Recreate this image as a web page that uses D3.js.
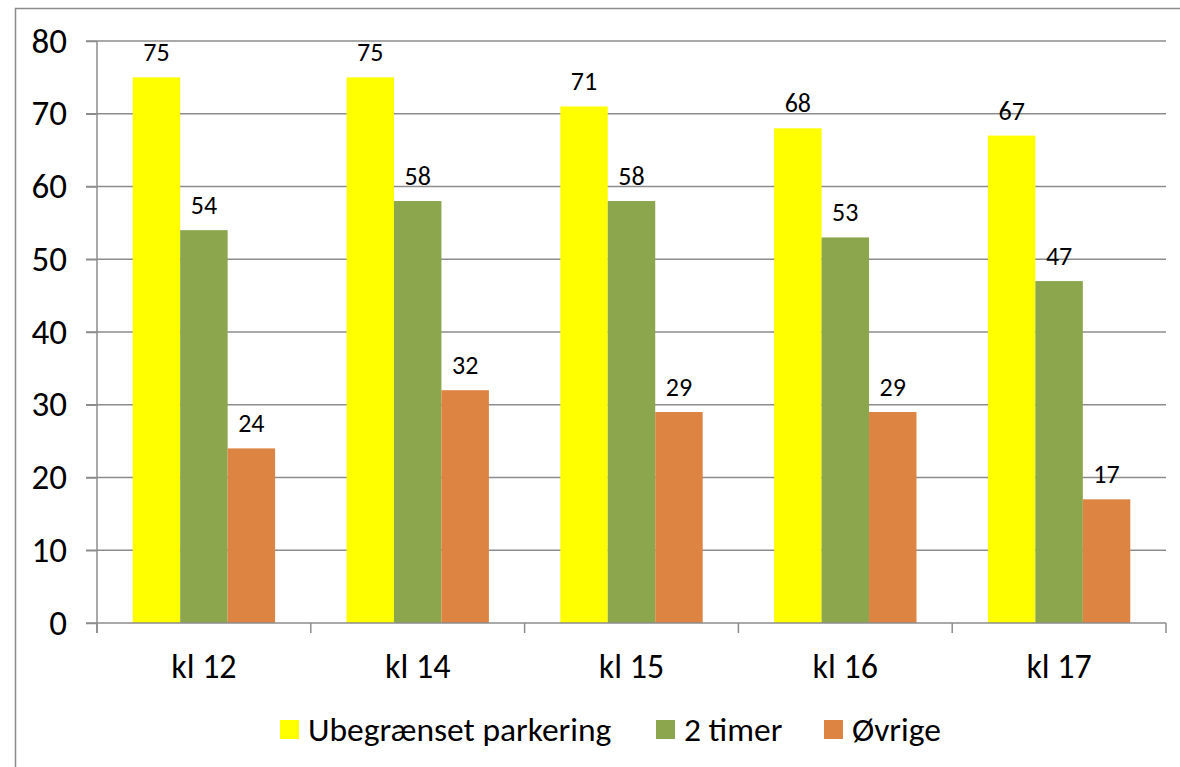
<!DOCTYPE html>
<html>
<head>
<meta charset="utf-8">
<script src="https://cdn.jsdelivr.net/npm/d3@7"></script>
<style>
	body { margin: 0; background: #fff; }
	svg { display: block; }
	text { font-family: Carlito, "Open Sans", "Noto Sans", sans-serif; }
</style>
</head>
<body>
<svg id="chart" width="1180" height="767"></svg>
<script>
const categories = ["kl 12", "kl 14", "kl 15", "kl 16", "kl 17"];
const seriesNames = ["Ubegrænset parkering", "2 timer", "Øvrige"];
const ubegrenset = [75, 75, 71, 68, 67];
const toTimer = [54, 58, 58, 53, 47];
const ovrige = [24, 32, 29, 29, 17];
const yTicks = [0, 10, 20, 30, 40, 50, 60, 70, 80];
const colors = ["#ffff00", "#8ba64d", "#de8442"];

const svg = d3.select("#chart");
const margin = {top: 41, right: 14, bottom: 144, left: 97};
const width = 1180, height = 767;

// outer frame
svg.append("path")
	.attr("d", "M15.5,767 V8.5 H1180")
	.attr("fill", "none")
	.attr("stroke", "#8c8c8c")
	.attr("stroke-width", 1.5);

const x = d3.scaleBand()
	.domain(categories)
	.range([margin.left, width - margin.right])
	.paddingInner(0.334)
	.paddingOuter(0.167);

const x0 = d3.scaleBand()
	.domain(categories)
	.range([margin.left, width - margin.right]);

const xs = d3.scaleBand()
	.domain(seriesNames)
	.range([0, x.bandwidth()]);

const y = d3.scaleLinear()
	.domain([0, 80])
	.range([height - margin.bottom, margin.top]);

// gridlines
svg.append("g").selectAll("line")
	.data(yTicks.filter(d => d > 0))
	.join("line")
	.attr("x1", margin.left - 11)
	.attr("x2", width - margin.right)
	.attr("y1", d => y(d))
	.attr("y2", d => y(d))
	.attr("stroke", "#8c8c8c")
	.attr("stroke-width", 1.5);

const data = categories.map((c, i) => ({
	cat: c,
	values: [ubegrenset[i], toTimer[i], ovrige[i]]
}));

const groups = svg.append("g").selectAll("g")
	.data(data)
	.join("g")
	.attr("transform", d => `translate(${x(d.cat)},0)`);

groups.selectAll("rect")
	.data(d => d.values.map((v, j) => ({name: seriesNames[j], v: v, j: j})))
	.join("rect")
	.attr("x", d => xs(d.name))
	.attr("width", xs.bandwidth())
	.attr("y", d => y(d.v))
	.attr("height", d => y(0) - y(d.v))
	.attr("fill", d => colors[d.j]);

groups.selectAll("text")
	.data(d => d.values.map((v, j) => ({name: seriesNames[j], v: v})))
	.join("text")
	.attr("x", d => xs(d.name) + xs.bandwidth() / 2)
	.attr("y", d => y(d.v) - 16)
	.attr("text-anchor", "middle")
	.attr("font-size", 26)
	.attr("fill", "#000")
	.text(d => d.v);

// y axis
const yAxis = svg.append("g")
	.attr("transform", `translate(${margin.left},0)`)
	.call(d3.axisLeft(y).tickValues(yTicks).tickSize(11).tickPadding(19));
yAxis.attr("font-family", null);
yAxis.select(".domain").attr("stroke", "#8c8c8c").attr("stroke-width", 1.5)
	.attr("d", `M0,${y(80)}V${y(0) + 10}`);
yAxis.selectAll(".tick line").attr("stroke", "#8c8c8c").attr("stroke-width", 1.5);
yAxis.selectAll(".tick text").attr("font-size", 35).attr("fill", "#000");

// x axis
const xAxis = svg.append("g")
	.attr("transform", `translate(0,${y(0)})`);
xAxis.append("line")
	.attr("x1", margin.left - 11)
	.attr("x2", width - margin.right)
	.attr("stroke", "#8c8c8c")
	.attr("stroke-width", 1.5);
xAxis.selectAll(".sep")
	.data(categories.map(c => x0(c)).concat([width - margin.right]))
	.join("line")
	.attr("class", "sep")
	.attr("x1", d => d).attr("x2", d => d)
	.attr("y1", 0).attr("y2", 10)
	.attr("stroke", "#8c8c8c")
	.attr("stroke-width", 1.5);
xAxis.selectAll(".lbl")
	.data(categories)
	.join("text")
	.attr("class", "lbl")
	.attr("x", d => x0(d) + x0.bandwidth() / 2)
	.attr("y", 55)
	.attr("text-anchor", "middle")
	.attr("font-size", 34)
	.attr("fill", "#000")
	.text(d => d);

// legend
const legendX = [280, 656, 824];
const legend = svg.append("g").attr("transform", "translate(0,729.5)");
const items = legend.selectAll("g")
	.data(seriesNames)
	.join("g")
	.attr("transform", (d, i) => `translate(${legendX[i]},0)`);
items.append("rect")
	.attr("x", 0).attr("y", -9.5)
	.attr("width", 19).attr("height", 19)
	.attr("fill", (d, i) => colors[i]);
items.append("text")
	.attr("x", 28)
	.attr("y", 11)
	.attr("font-size", 33.5)
	.attr("fill", "#000")
	.text(d => d);
</script>
</body>
</html>
